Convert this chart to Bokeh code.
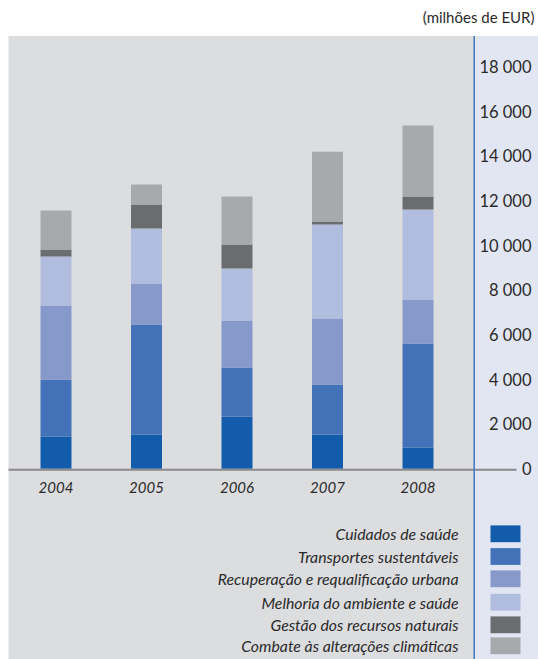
from bokeh.plotting import figure
from bokeh.models import ColumnDataSource, Range1d
from bokeh.core.properties import value
from bokeh.embed import file_html
from bokeh.resources import INLINE

# ---------------- data ----------------
years = ["2004", "2005", "2006", "2007", "2008"]
categories = [
    "Cuidados de saúde",
    "Transportes sustentáveis",
    "Recuperação e requalificação urbana",
    "Melhoria do ambiente e saúde",
    "Gestão dos recursos naturais",
    "Combate às alterações climáticas",
]
cuidados = [1450, 1540, 2345, 1535, 955]
transportes = [2550, 4930, 2195, 2240, 4660]
recuperacao = [3315, 1835, 2105, 2955, 1970]
melhoria = [2195, 2465, 2330, 4210, 4030]
gestao = [315, 1075, 1075, 135, 585]
combate = [1750, 895, 2150, 3135, 3180]
colors = ["#125CAB", "#4472B8", "#8799CB", "#B1BDDF", "#6B6C70", "#A8A9AC"]
tick_values = [0, 2000, 4000, 6000, 8000, 10000, 12000, 14000, 16000, 18000]
tick_labels = ["0", "2 000", "4 000", "6 000", "8 000", "10 000",
               "12 000", "14 000", "16 000", "18 000"]
unit_label = "(milhões de EUR)"

# ---------------- layout (pixels) ----------------
W, H = 538, 659
BAR0_PX, BAR_STEP_PX, BAR_W_PX = 55.5, 90.5, 31
ZERO_PX, PX_PER_UNIT = 468.3, 0.02232

x_start = -BAR0_PX / BAR_STEP_PX
x_end = x_start + W / BAR_STEP_PX
y_end = ZERO_PX / PX_PER_UNIT
y_start = -(H - ZERO_PX) / PX_PER_UNIT


def X(px):
    return x_start + px / BAR_STEP_PX


def Y(py):
    return (ZERO_PX - py) / PX_PER_UNIT


p = figure(width=W, height=H, output_backend="svg", toolbar_location=None,
           x_range=Range1d(x_start, x_end), y_range=Range1d(y_start, y_end),
           min_border=0, min_border_left=0, min_border_right=0,
           min_border_top=0, min_border_bottom=0)
p.axis.visible = False
p.grid.visible = False
p.outline_line_color = None
p.background_fill_color = "white"
p.border_fill_color = "white"

FONT = value("Lato")
TXT = "#2B2A2B"

# backgrounds
p.quad(left=[X(8)], right=[X(473.7)], top=[Y(35.5)], bottom=[Y(H + 2)],
       fill_color="#DCDDDF", line_color=None)
p.quad(left=[X(473.7)], right=[X(W + 2)], top=[Y(35.5)], bottom=[Y(H + 2)],
       fill_color="#E2E6F2", line_color=None)

# stacked bars
src = ColumnDataSource(dict(
    x=list(range(len(years))),
    cuidados=cuidados, transportes=transportes, recuperacao=recuperacao,
    melhoria=melhoria, gestao=gestao, combate=combate,
))
keys = ["cuidados", "transportes", "recuperacao", "melhoria", "gestao", "combate"]
p.vbar_stack(keys, x="x", width=BAR_W_PX / BAR_STEP_PX, source=src,
             color=colors, line_color=None)

# baseline
p.segment(x0=[X(8)], x1=[X(516)], y0=[Y(469.3)], y1=[Y(469.3)],
          line_color="#8A8A8C", line_width=2)
# vertical blue rule
p.segment(x0=[X(473.7)], x1=[X(473.7)], y0=[Y(35.5)], y1=[Y(H + 2)],
          line_color="#3F78C0", line_width=1.5)

# value tick labels
p.text(x=[X(531)] * len(tick_values), y=tick_values, text=tick_labels,
       text_align="right", text_baseline="middle", text_font=FONT,
       text_font_size="16.5px", text_color=TXT)

# year labels
p.text(x=list(range(len(years))), y=[Y(487)] * len(years), text=years,
       text_align="center", text_baseline="middle", text_font=FONT,
       text_font_size="15px", text_font_style="italic", text_color=TXT)

# unit label
p.text(x=[X(534)], y=[Y(16)], text=[unit_label], text_align="right",
       text_baseline="middle", text_font=FONT, text_font_size="15px",
       text_color=TXT)

# legend
leg_y_px = [533.3, 556, 578.3, 601.7, 624.3, 645.3]
p.text(x=[X(458)] * len(categories), y=[Y(v) for v in leg_y_px], text=categories,
       text_align="right", text_baseline="middle", text_font=FONT,
       text_font_size="15.8px", text_font_style="italic", text_color=TXT)
p.quad(left=[X(490)] * 6, right=[X(520)] * 6,
       top=[Y(v - 8.4) for v in leg_y_px], bottom=[Y(v + 8.4) for v in leg_y_px],
       fill_color=colors, line_color=None)

open("out.html", "w").write(file_html(p, INLINE))
